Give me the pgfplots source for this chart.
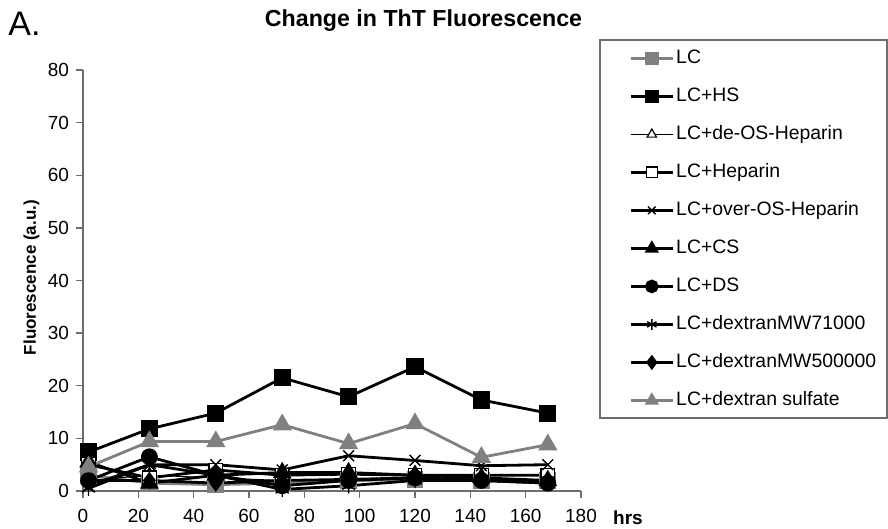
\documentclass[border=0pt]{standalone}
\usepackage{fontspec}
\setmainfont{Liberation Sans}
\usepackage{pgfplots}
\pgfplotsset{compat=1.18}
\definecolor{xlgray}{RGB}{128,128,128}
\definecolor{axgray}{RGB}{110,110,110}

\begin{document}
\begin{tikzpicture}
\path[use as bounding box] (0,0) rectangle (444pt,264.5pt);
\begin{axis}[
    at={(41.5pt,19pt)}, anchor=south west,
    scale only axis,
    width=249pt, height=210.5pt,
    xmin=0, xmax=180, ymin=0, ymax=80,
    xtick={0,20,...,180}, ytick={0,10,...,80},
    axis lines=left,
    axis line style={-, axgray, line width=0.7pt},
    tick align=outside,
    major tick length=3.5pt,
    tick style={axgray, line width=0.7pt},
    ticklabel style={font=\fontsize{9.5}{10}\selectfont},
    xticklabel style={yshift=-2pt},
    /pgf/number format/assume math mode=true,
    ylabel={Fluorescence (a.u.)},
    ylabel style={font=\bfseries\fontsize{8.5}{10}\selectfont,
        at={(axis description cs:-0.1034,0.507)}, anchor=center},
    clip=false,
    every axis plot/.append style={line width=1.4pt},
    legend style={draw=none, fill=none,
        at={(axis description cs:1.0964,1.0546)}, anchor=north west,
        inner sep=0pt, row sep=8pt, column sep=0pt,
        font=\fontsize{9.7}{11}\selectfont,
        nodes={inner sep=1pt, text height=7pt, text depth=2pt}},
    legend cell align=left,
    legend image code/.code={
        \draw[mark repeat=2, mark phase=2, #1, mark size=2.7pt]
            plot coordinates {(0pt,0pt) (10.5pt,0pt) (21pt,0pt)};
    },
]
% LC
\addplot[xlgray, mark=square*, mark size=3.5pt, mark options={fill=xlgray, draw=xlgray}] coordinates {
    (2,3.0) (24,1.5) (48,1.2) (72,1.5) (96,2.0) (120,2.2) (144,2.0) (168,2.0)
};
% LC+HS
\addplot[black, mark=square*, mark size=3.6pt] coordinates {
    (2,7.4) (24,11.8) (48,14.8) (72,21.5) (96,17.9) (120,23.6) (144,17.3) (168,14.8)
};
% LC+de-OS-Heparin
\addplot[black, line width=0.5pt, mark=triangle*, mark size=3.8pt, mark options={fill=white, line width=0.6pt}] coordinates {
    (2,2.0) (24,3.0) (48,2.5) (72,2.0) (96,2.0) (120,2.5) (144,2.2) (168,2.0)
};
% LC+Heparin
\addplot[black, mark=square*, mark size=3.4pt, mark options={fill=white, line width=0.6pt}] coordinates {
    (2,5.0) (24,2.5) (48,4.0) (72,3.0) (96,3.2) (120,3.0) (144,3.0) (168,3.0)
};
% LC+over-OS-Heparin
\addplot[black, mark=x, mark size=3.8pt, mark options={line width=0.7pt}] coordinates {
    (2,1.0) (24,5.0) (48,5.0) (72,4.0) (96,6.7) (120,5.8) (144,4.8) (168,5.0)
};
% LC+CS
\addplot[black, mark=triangle*, mark size=4pt] coordinates {
    (2,5.5) (24,1.5) (48,3.0) (72,3.5) (96,3.5) (120,3.0) (144,2.5) (168,2.0)
};
% LC+DS
\addplot[black, mark=*, mark size=3.5pt] coordinates {
    (2,2.0) (24,6.5) (48,3.0) (72,1.0) (96,2.0) (120,2.5) (144,2.0) (168,1.5)
};
% LC+dextranMW71000
\addplot[black, mark=asterisk, mark size=3.8pt, mark options={line width=0.7pt}] coordinates {
    (2,0.5) (24,5.0) (48,3.0) (72,0.3) (96,1.0) (120,2.0) (144,2.0) (168,2.0)
};
% LC+dextranMW500000
\addplot[black, mark=diamond*, mark size=3.2pt] coordinates {
    (2,2.0) (24,2.0) (48,1.5) (72,2.0) (96,2.2) (120,2.5) (144,2.0) (168,1.5)
};
% LC+dextran sulfate
\addplot[xlgray, mark=triangle*, mark size=4.2pt, mark options={fill=xlgray, draw=xlgray}] coordinates {
    (2,4.6) (24,9.4) (48,9.4) (72,12.6) (96,9.0) (120,12.8) (144,6.4) (168,8.8)
};
\legend{LC, LC+HS, LC+de-OS-Heparin, LC+Heparin, LC+over-OS-Heparin, LC+CS, LC+DS, LC+dextranMW71000, LC+dextranMW500000, LC+dextran sulfate}
\end{axis}
\draw[axgray, line width=0.6pt] (300pt,55.5pt) rectangle (443.5pt,244.5pt);
\node[anchor=base, inner sep=0pt, font=\bfseries\fontsize{11.6}{13}\selectfont] at (211.75pt,251pt) {Change in ThT Fluorescence};
\node[anchor=base west, inner sep=0pt, font=\fontsize{17}{19}\selectfont] at (4pt,246.5pt) {A.};
\node[anchor=center, inner sep=0pt, font=\bfseries\fontsize{9.5}{10}\selectfont] at (314pt,5.5pt) {hrs};
\end{tikzpicture}
\end{document}
